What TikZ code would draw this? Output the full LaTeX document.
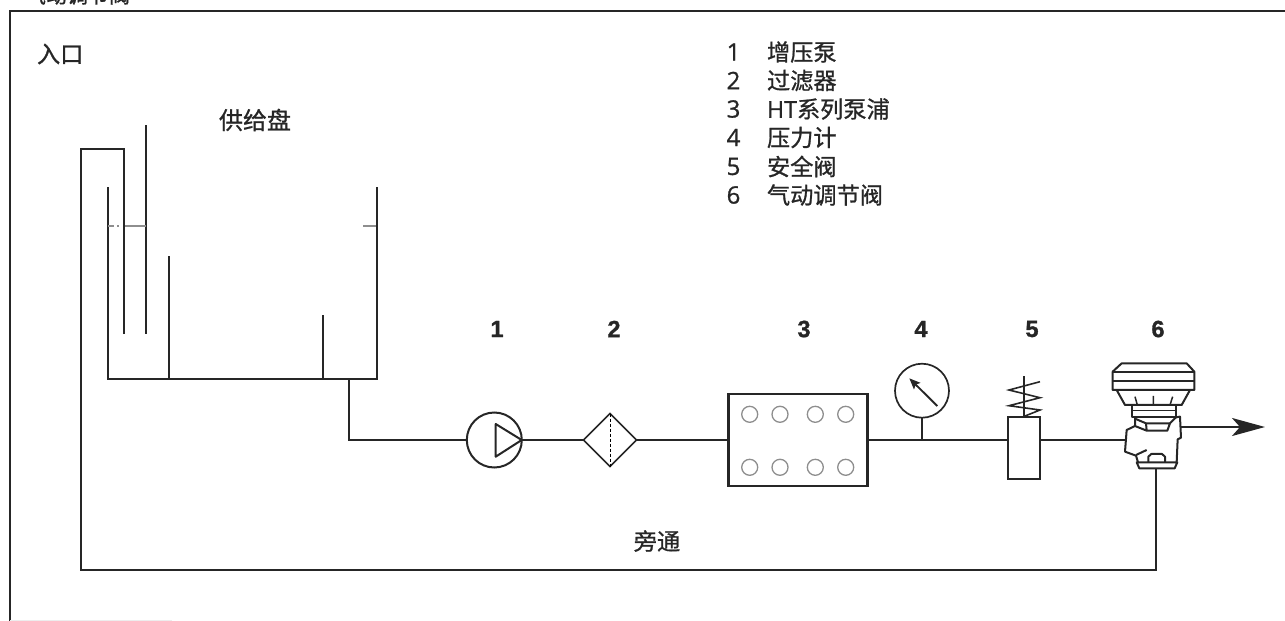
\documentclass[tikz,border=0pt]{standalone}
\usepackage{fontspec}
\usetikzlibrary{arrows.meta,shapes.geometric}
\newfontfamily\cjkf[FakeBold=0.9]{Noto Sans CJK SC}
\newfontfamily\latf[FakeBold=0.9]{Open Sans}
\newfontfamily\labf[FakeBold=1.2]{Liberation Sans Bold}
\definecolor{ink}{HTML}{262626}
\definecolor{thin}{HTML}{8E8E8E}
\tikzset{
  pipe/.style={draw=ink,line width=2.2pt,line join=miter},
  shapeline/.style={draw=ink,line width=2pt,line join=round},
  port/.style={draw=thin,line width=1.3pt,circle,minimum size=16pt,inner sep=0pt,outer sep=0pt},
  txt/.style={inner sep=0pt,outer sep=0pt,text=ink,font=\cjkf\fontsize{23.2}{25}\selectfont},
  numlabel/.style={inner sep=0pt,outer sep=0pt,text=ink,font=\labf\fontsize{23.5}{25}\selectfont},
  legnum/.style={inner sep=0pt,outer sep=0pt,text=ink,font=\latf\fontsize{24}{26}\selectfont},
  level/.style={draw=thin,line width=1.2pt}
}
\begin{document}
\begin{tikzpicture}[x=1pt,y=-1pt]
\useasboundingbox (0,0) rectangle (1285,621);
\clip (0,0) rectangle (1285,621);
% frame
\draw[ink,line width=2.2pt] (10,621) -- (10,11) -- (1285,11);
\draw[black!7,line width=1pt] (10,620.5) -- (172,620.5);
% texts
\node[txt,anchor=west,font=\cjkf\fontsize{21}{24}\selectfont] (title) at (25,-5) {气动调节阀};
\node[txt,anchor=west] (inlet) at (37,54) {入口};
\node[txt,anchor=west,font=\cjkf\fontsize{24}{26}\selectfont] (tanklabel) at (219,120) {供给盘};
\node[txt,anchor=center] (bypass) at (657,541) {旁通};
% legend
\foreach \n/\t/\y in {1/增压泵/52,2/过滤器/80.5,3/{{\latf HT}系列泵浦}/109,4/压力计/137.5,5/安全阀/166.5,6/气动调节阀/195}{
  \node[legnum,anchor=center] (ln\n) at (733.5,\y) {\n};
  \node[txt,anchor=west] (lt\n) at (767,\y) {\t};
}
% item numbers
\node[numlabel] (n1) at (497,329) {1};
\node[numlabel] (n2) at (614,329) {2};
\node[numlabel] (n3) at (804,329) {3};
\node[numlabel] (n4) at (921,329) {4};
\node[numlabel] (n5) at (1032,329) {5};
\node[numlabel] (n6) at (1158,329) {6};
% tank
\coordinate (tl) at (108,187);
\coordinate (bl) at (108,379);
\coordinate (br) at (377,379);
\coordinate (tr) at (377,187);
\coordinate (tankout) at (349,379);
\draw[pipe] (tl) -- (bl) -- (br) -- (tr);
\draw[pipe] (169,256) -- (169,379);
\draw[pipe,line width=1.9pt] (323,315) -- (323,379);
\draw[pipe] (146,125) -- (146,334);
\draw[level,dashed,dash pattern=on 6pt off 3pt on 2pt off 5pt on 16pt off 0pt] (108,226) -- (146,226);
\draw[level] (363,226) -- (376,226);
% return pipe into the tank
\coordinate (retend) at (124,334);
\coordinate (valvebot) at (1156,468);
\draw[pipe] (retend) -- (124,149) -- (81,149) -- (81,570) -- (1156,570) -- (valvebot);
% components
\node[draw=ink,line width=2pt,circle,minimum size=55pt,inner sep=0pt,outer sep=0pt] (pump) at (494.3,440) {};
\draw[shapeline] (495.7,424) -- (495.7,456.7) -- (521.7,440) -- cycle;
\node[draw=ink,line width=1.6pt,diamond,minimum width=53pt,minimum height=53pt,inner sep=0pt,outer sep=0pt,aspect=1] (filter) at (610,440) {};
\draw[thin,line width=.9pt,dashed,dash pattern=on 3pt off 2pt] (filter.north) -- (filter.south);
\node[draw=ink,line width=2.2pt,rectangle,minimum width=139pt,minimum height=92pt,inner sep=0pt,outer sep=0pt] (ht) at (798,440) {};
\foreach \i/\x/\y in {a/749.7/414.3,b/780/414.3,c/815.3/414.3,d/845.7/414.3,e/749.7/467.3,f/780/467.3,g/815.3/467.3,h/845.7/467.3}{
  \node[port] (p\i) at (\x,\y) {};
}
\node[draw=ink,line width=1.7pt,circle,minimum size=54pt,inner sep=0pt,outer sep=0pt] (gauge) at (922,390.7) {};
\draw[ink,line width=1.9pt,-{Stealth[length=11pt,width=9pt,inset=2pt]}] (937.3,406) -- (909.3,378.3);
\node[draw=ink,line width=2pt,rectangle,minimum width=31.4pt,minimum height=61.7pt,inner sep=0pt,outer sep=0pt] (relief) at (1024,448.2) {};
\draw[ink,line width=1.6pt] (relief.north) -- (1024,375.7);
\draw[ink,line width=1.6pt] (1040,381.7) -- (1009,390) -- (1040,397.7) -- (1009,405.7) -- (1040,410) -- (1023.3,416.7);
% valve 6
\begin{scope}[shift={(1080,340)},x=0.3333pt,y=-0.3333pt]
  \draw[shapeline] (125,70) -- (320,70) -- (343,95) -- (343,150) -- (98,150) -- (98,95) -- cycle;
  \draw[shapeline] (98,95) -- (343,95) (98,122) -- (343,122);
  \draw[shapeline] (110,150) -- (135,195) -- (305,195) -- (330,150);
  \draw[shapeline,line width=1.5pt] (165,170) -- (172,195) (220,168) -- (220,195) (278,170) -- (270,195);
  \draw[shapeline] (155,197) -- (155,230) -- (288,230) -- (288,197);
  \draw[shapeline,line width=1.5pt] (155,212) -- (288,212);
  \draw[shapeline] (165,234) -- (165,258) -- (140,270) -- (135,335) -- (168,347) -- (174,367);
  \draw[shapeline] (288,232) -- (300,230) -- (303,293) -- (293,298) -- (290,367);
  \draw[shapeline] (168,345) -- (200,330);
  \draw[shapeline] (165,236) -- (198,250) -- (270,250) -- (262,272) -- (200,272) -- (165,258);
  \draw[shapeline] (198,250) -- (200,272) (270,250) -- (288,232);
  \draw[shapeline] (170,367) -- (292,367) -- (284,385) -- (178,385) -- cycle;
  \draw[shapeline] (205,367) -- (205,350) -- (214,342) -- (246,342) -- (255,350) -- (255,367);
\end{scope}
\coordinate (valvein) at (1125,440);
\coordinate (valveout) at (1181,427);
\coordinate (outtip) at (1265,427);
% pipes
\draw[pipe] (tankout) |- (pump.west);
\draw[pipe] (pump.east) -- (filter.west);
\draw[pipe] (filter.east) -- (ht.west);
\draw[pipe] (ht.east) -- (relief.west |- ht.east);
\draw[pipe] (relief.east |- ht.east) -- (valvein);
\draw[pipe] (gauge.south) -- (gauge.south |- ht.east);
\draw[pipe,-{Stealth[length=33pt,width=18pt,inset=8pt]}] (valveout) -- (outtip);
\end{tikzpicture}
\end{document}
